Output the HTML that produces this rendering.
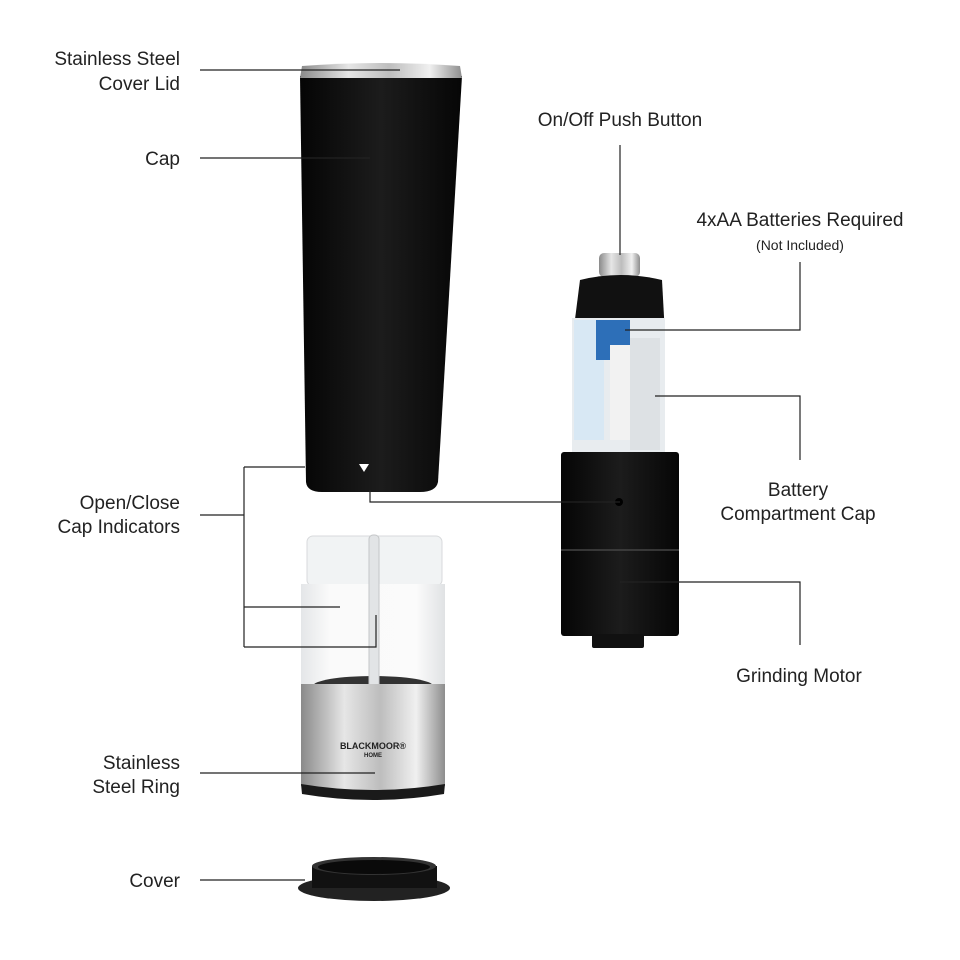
<!DOCTYPE html>
<html><head><meta charset="utf-8"><style>
body{margin:0;background:#fff;}
svg{display:block;font-family:"Liberation Sans",sans-serif;}
text{font-size:19px;fill:#222;}
</style></head><body>
<svg width="960" height="960" viewBox="0 0 960 960">
<defs>
<linearGradient id="blk" x1="0" x2="1"><stop offset="0" stop-color="#050505"/><stop offset=".5" stop-color="#1c1c1c"/><stop offset="1" stop-color="#060606"/></linearGradient>
<linearGradient id="steel" x1="0" x2="1"><stop offset="0" stop-color="#8a8a8a"/><stop offset=".3" stop-color="#e6e6e6"/><stop offset=".55" stop-color="#bdbdbd"/><stop offset=".8" stop-color="#f0f0f0"/><stop offset="1" stop-color="#8d8d8d"/></linearGradient>
<linearGradient id="glass" x1="0" x2="1"><stop offset="0" stop-color="#e4e6e8"/><stop offset=".2" stop-color="#fafafa"/><stop offset=".8" stop-color="#fbfbfb"/><stop offset="1" stop-color="#e0e2e4"/></linearGradient>
</defs>

<!-- cap -->
<path d="M300,76 L462,76 L438,482 Q436,492 420,492 L322,492 Q307,492 306,482 Z" fill="url(#blk)"/>
<path d="M302,66 Q381,60 460,66 L462,78 L300,78 Z" fill="url(#steel)"/>
<path d="M359,464 L369,464 L364,472 Z" fill="#fff"/>

<!-- grinder -->
<rect x="307" y="536" width="135" height="50" rx="6" fill="#f1f3f4" stroke="#d8dadc"/>
<rect x="301" y="584" width="144" height="102" fill="url(#glass)"/>
<ellipse cx="373" cy="686" rx="60" ry="10" fill="#333"/>
<rect x="369" y="535" width="10" height="155" rx="4" fill="#e2e4e6" stroke="#c4c6c8"/>
<path d="M301,684 L445,684 L445,786 Q373,800 301,786 Z" fill="url(#steel)"/>
<path d="M301,784 Q373,796 445,784 L444,794 Q373,806 302,794 Z" fill="#1a1a1a"/>
<text x="373" y="749" text-anchor="middle" style="font-size:9px;font-weight:bold;fill:#222">BLACKMOOR®</text>
<text x="373" y="757" text-anchor="middle" style="font-size:6px;font-weight:bold;fill:#222">HOME</text>

<!-- cover -->
<ellipse cx="374" cy="888" rx="76" ry="13" fill="#222"/>
<rect x="312" y="866" width="125" height="22" fill="#111"/>
<ellipse cx="374" cy="866" rx="62" ry="9" fill="#333"/>
<ellipse cx="374" cy="867" rx="56" ry="7" fill="#0a0a0a"/>

<!-- right unit -->
<rect x="599" y="253" width="41" height="24" rx="5" fill="url(#steel)"/>
<path d="M580,280 Q620,270 662,280 L665,335 L573,335 Z" fill="#111"/>
<rect x="572" y="318" width="93" height="138" fill="#e8ecef"/>
<rect x="574" y="320" width="30" height="120" fill="#d8e8f4"/>
<rect x="596" y="320" width="34" height="40" fill="#2d6fb8"/>
<rect x="610" y="345" width="22" height="95" fill="#f2f2f2"/>
<rect x="630" y="338" width="30" height="112" fill="#dde1e4"/>
<rect x="561" y="452" width="118" height="184" rx="3" fill="url(#blk)"/>
<line x1="561" y1="550" x2="679" y2="550" stroke="#444" stroke-width="1.5"/>
<circle cx="619" cy="502" r="4" fill="#000"/>
<rect x="592" y="634" width="52" height="14" rx="2" fill="#111"/>

<!-- connector lines -->
<g stroke="#222" stroke-width="1.2" fill="none">
<path d="M200,70 H400"/>
<path d="M200,158 H370"/>
<path d="M200,515 H244 M244,467 V647 M244,467 H305 M244,607 H340 M244,647 H376 V615"/>
<path d="M370,490 V502 H620"/>
<path d="M620,145 V255"/>
<path d="M800,262 V330 H625"/>
<path d="M655,396 H800 V460"/>
<path d="M620,582 H800 V645"/>
<path d="M200,773 H375"/>
<path d="M200,880 H305"/>
</g>

<!-- labels -->
<g text-anchor="end">
<text x="180" y="65">Stainless Steel</text>
<text x="180" y="90">Cover Lid</text>
<text x="180" y="165">Cap</text>
<text x="180" y="509">Open/Close</text>
<text x="180" y="533">Cap Indicators</text>
<text x="180" y="769">Stainless</text>
<text x="180" y="793">Steel Ring</text>
<text x="180" y="887">Cover</text>
</g>
<g text-anchor="middle">
<text x="620" y="126">On/Off Push Button</text>
<text x="800" y="226">4xAA Batteries Required</text>
<text x="800" y="250" style="font-size:14px">(Not Included)</text>
<text x="798" y="496">Battery</text>
<text x="798" y="520">Compartment Cap</text>
<text x="799" y="682">Grinding Motor</text>
</g>
</svg>
</body></html>
